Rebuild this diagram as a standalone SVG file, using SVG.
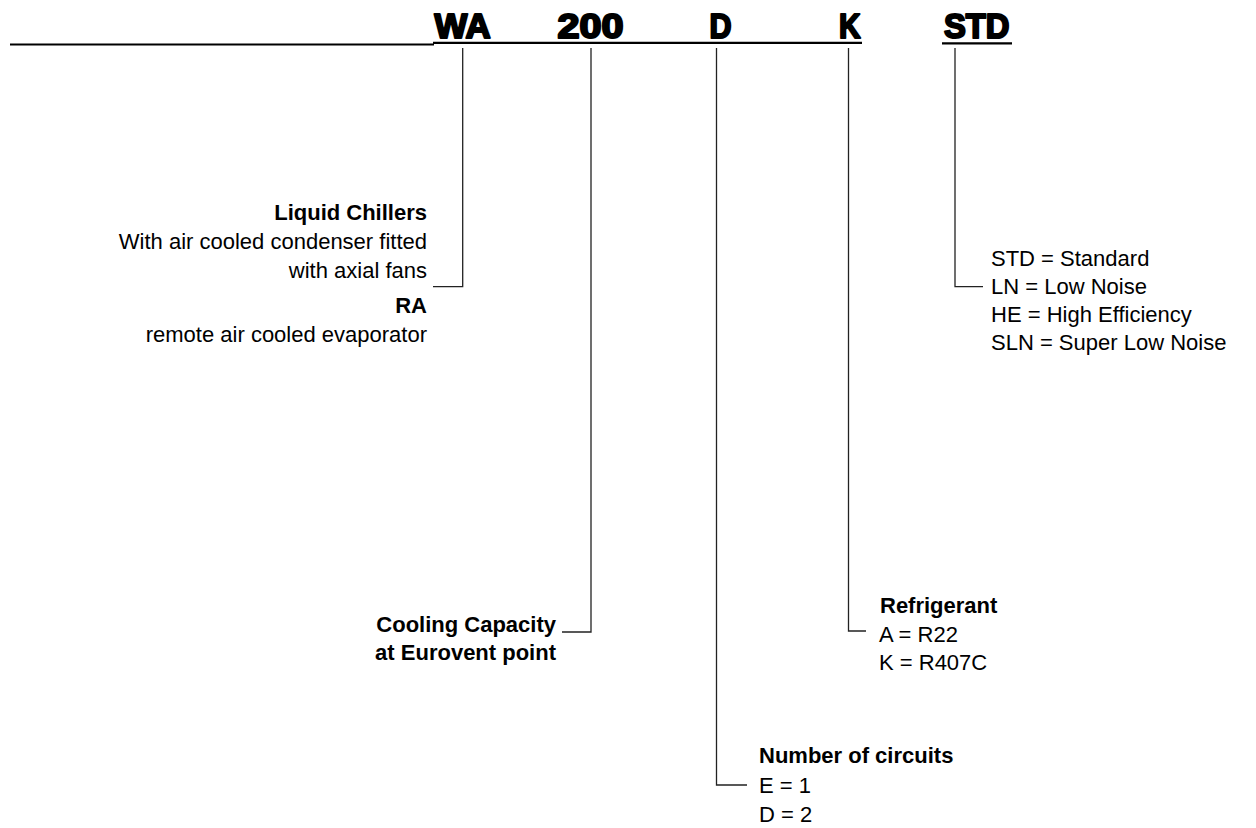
<svg xmlns="http://www.w3.org/2000/svg" width="1256" height="828" viewBox="0 0 1256 828">
<style>
.code{font-family:"Liberation Sans",Arial,sans-serif;font-weight:bold;font-size:35px;fill:#000;stroke:#000;stroke-width:2.2px;stroke-linejoin:round;}
.t{font-family:"Liberation Sans",Arial,sans-serif;font-size:22px;fill:#000;}
.b{font-weight:bold;}
.e{text-anchor:end;}
.conn{fill:none;stroke:#222;stroke-width:1.3;}
.ul{stroke:#000;stroke-width:2.2;}
</style>
<rect width="1256" height="828" fill="#fff"/>
<g id="header">
<line class="ul" x1="10" y1="44.5" x2="434" y2="44.5"/>
<line class="ul" x1="433" y1="42.8" x2="862" y2="42.8"/>
<line class="ul" x1="942" y1="43.3" x2="1012" y2="43.3"/>
<text class="code" x="434.5" y="38" textLength="56" lengthAdjust="spacingAndGlyphs">WA</text>
<text class="code" x="557.5" y="38" textLength="66" lengthAdjust="spacingAndGlyphs">200</text>
<text class="code" x="709.5" y="38" textLength="22" lengthAdjust="spacingAndGlyphs">D</text>
<text class="code" x="839" y="38" textLength="21.5" lengthAdjust="spacingAndGlyphs">K</text>
<text class="code" x="944" y="38" textLength="65.5" lengthAdjust="spacingAndGlyphs">STD</text>
</g>
<g id="connectors">
<polyline class="conn" points="462.7,48 462.7,286.7 433,286.7"/>
<polyline class="conn" points="591,48 591,632 562,632"/>
<polyline class="conn" points="716.5,48 716.5,785 747,785"/>
<polyline class="conn" points="848.5,48 848.5,631 866,631"/>
<polyline class="conn" points="955,48 955,286.7 983,286.7"/>
</g>
<g id="node-type">
<text class="t b e" x="427" y="220">Liquid Chillers</text>
<text class="t e" x="427" y="249">With air cooled condenser fitted</text>
<text class="t e" x="427" y="278">with axial fans</text>
<text class="t b e" x="427" y="313">RA</text>
<text class="t e" x="427" y="342">remote air cooled evaporator</text>
</g>
<g id="node-capacity">
<text class="t b e" x="556" y="632">Cooling Capacity</text>
<text class="t b e" x="556" y="660">at Eurovent point</text>
</g>
<g id="node-circuits">
<text class="t b" x="759" y="763">Number of circuits</text>
<text class="t" x="759" y="793">E = 1</text>
<text class="t" x="759" y="822">D = 2</text>
</g>
<g id="node-refrigerant">
<text class="t b" x="880" y="613">Refrigerant</text>
<text class="t" x="879" y="642">A = R22</text>
<text class="t" x="879" y="670">K = R407C</text>
</g>
<g id="node-version">
<text class="t" x="991" y="266">STD = Standard</text>
<text class="t" x="991" y="294">LN = Low Noise</text>
<text class="t" x="991" y="322">HE = High Efficiency</text>
<text class="t" x="991" y="350">SLN = Super Low Noise</text>
</g>
</svg>
